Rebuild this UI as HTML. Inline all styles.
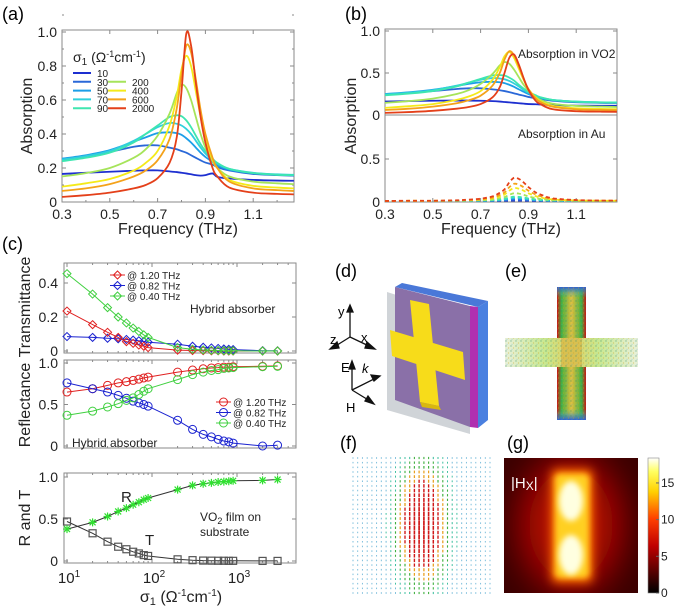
<!DOCTYPE html>
<html><head><meta charset="utf-8">
<style>
html,body{margin:0;padding:0;background:#fff;}
svg{display:block;font-family:"Liberation Sans",Arial,sans-serif;}
</style></head>
<body>
<svg id="fig" width="675" height="608" viewBox="0 0 675 608" xmlns="http://www.w3.org/2000/svg">
<defs>
  <linearGradient id="cbar" x1="0" y1="1" x2="0" y2="0">
    <stop offset="0" stop-color="#000"/><stop offset="0.35" stop-color="#c00000"/><stop offset="0.55" stop-color="#ff4000"/><stop offset="0.75" stop-color="#ffd000"/><stop offset="0.9" stop-color="#ffff60"/><stop offset="1" stop-color="#fff"/>
  </linearGradient>
  <filter id="blur6" x="-50%" y="-50%" width="200%" height="200%"><feGaussianBlur stdDeviation="5"/></filter>
  <filter id="blur12" x="-50%" y="-50%" width="200%" height="200%"><feGaussianBlur stdDeviation="14"/></filter>
  <filter id="blur3" x="-50%" y="-50%" width="200%" height="200%"><feGaussianBlur stdDeviation="3"/></filter>
  <clipPath id="gclip"><rect x="504" y="458" width="134" height="135"/></clipPath>
  <linearGradient id="vbar" x1="0" y1="0" x2="1" y2="0">
    <stop offset="0" stop-color="#d01010"/><stop offset="0.15" stop-color="#40b040"/><stop offset="0.5" stop-color="#e0c040"/><stop offset="0.85" stop-color="#40b040"/><stop offset="1" stop-color="#d01010"/>
  </linearGradient>
  <linearGradient id="hbar" x1="0" y1="0" x2="1" y2="0">
    <stop offset="0" stop-color="#e8f0d8"/><stop offset="0.3" stop-color="#c8e890"/><stop offset="0.5" stop-color="#e0d060"/><stop offset="0.7" stop-color="#c8e890"/><stop offset="1" stop-color="#e8f0d8"/>
  </linearGradient>
  <linearGradient id="vcap" x1="0" y1="0" x2="0" y2="1">
    <stop offset="0" stop-color="#3060d0"/><stop offset="0.08" stop-color="#50c0a0" stop-opacity="0"/><stop offset="0.92" stop-color="#50c0a0" stop-opacity="0"/><stop offset="1" stop-color="#3060d0"/>
  </linearGradient>
  <pattern id="dots" width="5" height="5" patternUnits="userSpaceOnUse">
    <circle cx="1" cy="1" r="0.7" fill="#2a8a70"/><circle cx="3.5" cy="3" r="0.6" fill="#d0a020"/><circle cx="2" cy="4.2" r="0.5" fill="#50a0d0"/>
  </pattern>
</defs>

<text x="2" y="20" font-size="18">(a)</text>
<text x="345" y="20" font-size="18">(b)</text>
<text x="2" y="250" font-size="18">(c)</text>
<text x="335" y="277" font-size="18">(d)</text>
<text x="505" y="277" font-size="18">(e)</text>
<text x="340" y="449" font-size="18">(f)</text>
<text x="507" y="449" font-size="18">(g)</text>

<g id="pa"></g>
<g id="pb"></g>
<g id="pc"></g>

<g stroke="#111" stroke-width="1.3" fill="none">
  <line x1="350" y1="337" x2="350" y2="309"/><path d="M347,312 L350,305 L353,312Z" fill="#111"/>
  <line x1="350" y1="337" x2="371" y2="347"/><path d="M367,342 L375,349 L365,348Z" fill="#111"/>
  <line x1="350" y1="337" x2="334" y2="347"/><path d="M337,342 L330,349 L339,348Z" fill="#111"/>
  <line x1="352" y1="390" x2="352" y2="366"/><path d="M349,369 L352,361 L355,369Z" fill="#111"/>
  <line x1="352" y1="390" x2="376" y2="378"/><path d="M371,375 L380,376 L374,381Z" fill="#111"/>
  <line x1="352" y1="390" x2="370" y2="401"/><path d="M365,401 L374,404 L368,396Z" fill="#111"/>
</g>
<text x="338" y="316" font-size="13">y</text>
<text x="361" y="342" font-size="13">x</text>
<text x="330" y="344" font-size="13">z</text>
<text x="341" y="372" font-size="13">E</text>
<text x="362" y="373" font-size="13" font-style="italic">k</text>
<text x="346" y="412" font-size="13">H</text>
<g>
  <polygon points="387,292 470,318 470,434 387,410" fill="#d0d4d8"/>
  <polygon points="395,287 402,283 488,301 478,307" fill="#4a78d8"/>
  <polygon points="478,307 488,301 488,420 478,428" fill="#4a80e0"/>
  <polygon points="470,306 478,307 478,428 470,427" fill="#b030b0"/>
  <polygon points="395,287 470,306 470,427 395,400" fill="#8a70a8"/>
  <polygon points="410,300 429,304 439,406 420,402" fill="#f7dc1a"/>
  <polygon points="390,330 463,352 465,380 392,356" fill="#f7dc1a"/>
  <polygon points="420,402 439,406 441,410 422,407" fill="#d8b810"/>
</g>

<g>
  <rect x="557" y="287" width="29" height="133" fill="url(#vbar)"/>
  <rect x="505" y="338" width="133" height="29" fill="url(#hbar)"/>
  <rect x="561" y="338" width="21" height="29" fill="#d8c050"/>
  <rect x="557" y="287" width="29" height="133" fill="url(#vcap)"/>
  <rect x="505" y="287" width="133" height="133" fill="url(#dots)" opacity="0.5"/>
  <rect x="505" y="287" width="52" height="51" fill="#fff"/>
  <rect x="586" y="287" width="52" height="51" fill="#fff"/>
  <rect x="505" y="367" width="52" height="53" fill="#fff"/>
  <rect x="586" y="367" width="52" height="53" fill="#fff"/>
</g>

<g id="pf"></g>

<g clip-path="url(#gclip)">
  <rect x="504" y="458" width="134" height="135" fill="#3a0000"/>
  <ellipse cx="571" cy="525" rx="60" ry="80" fill="#700000" filter="url(#blur12)"/>
  <ellipse cx="571" cy="525" rx="42" ry="55" fill="#b00800" filter="url(#blur12)"/>
  <rect x="551" y="469" width="42" height="114" rx="6" fill="#ff7000" filter="url(#blur6)"/>
  <rect x="555" y="474" width="34" height="104" rx="5" fill="#ffd020" filter="url(#blur3)"/>
  <ellipse cx="571" cy="501" rx="12" ry="20" fill="#ffffe0" filter="url(#blur3)"/>
  <ellipse cx="571" cy="555" rx="12" ry="20" fill="#ffffe0" filter="url(#blur3)"/>
</g>
<text x="511" y="488" font-size="15" fill="#fff">|H<tspan font-size="12" dy="2">X</tspan><tspan dy="-2">|</tspan></text>
<rect x="648" y="458" width="11" height="135" fill="url(#cbar)" stroke="#888" stroke-width="0.6"/>
<g id="cbticks"></g>

<script>
// ---------- data ----------
const freqs = [0.3,0.4,0.5,0.6,0.65,0.7,0.75,0.78,0.8,0.82,0.84,0.86,0.88,0.9,0.93,0.95,1.0,1.1,1.2,1.27];
const sigmaLabels = ['10','30','50','70','90','200','400','600','2000'];
const seriesColors = ['#1d2fd0','#2a68d8','#1c9ee8','#30d0dc','#3ee6b0','#a6e45a','#f4ea1a','#f4a21a','#e4401a'];
const absA10 = [0.165,0.172,0.178,0.184,0.186,0.186,0.18,0.176,0.172,0.168,0.163,0.158,0.155,0.158,0.168,0.148,0.138,0.13,0.126,0.125];
const absA30 = [0.25,0.27,0.295,0.325,0.333,0.333,0.32,0.31,0.3,0.29,0.275,0.26,0.245,0.232,0.22,0.205,0.185,0.165,0.158,0.155];
const absA50 = [0.255,0.275,0.305,0.355,0.38,0.405,0.41,0.405,0.395,0.375,0.35,0.32,0.29,0.265,0.235,0.215,0.19,0.17,0.16,0.158];
const absA70 = [0.25,0.27,0.30,0.36,0.40,0.44,0.465,0.46,0.45,0.43,0.4,0.36,0.32,0.285,0.245,0.225,0.195,0.172,0.163,0.16];
const absA90 = [0.24,0.26,0.29,0.35,0.40,0.45,0.5,0.51,0.505,0.48,0.44,0.39,0.34,0.3,0.255,0.23,0.195,0.17,0.16,0.158];
const absA200 = [0.15,0.17,0.2,0.26,0.31,0.39,0.52,0.64,0.69,0.67,0.6,0.5,0.4,0.32,0.24,0.2,0.15,0.12,0.11,0.105];
const absA400 = [0.09,0.11,0.135,0.185,0.23,0.3,0.45,0.62,0.78,0.86,0.8,0.65,0.5,0.37,0.25,0.2,0.13,0.095,0.085,0.08];
const absA600 = [0.065,0.08,0.105,0.15,0.185,0.245,0.37,0.55,0.75,0.92,0.88,0.72,0.54,0.4,0.26,0.2,0.12,0.08,0.07,0.065];
const absA2000 = [0.03,0.04,0.055,0.08,0.1,0.14,0.23,0.38,0.65,0.99,0.92,0.7,0.5,0.35,0.2,0.15,0.085,0.055,0.048,0.045];

const vo2_10 = [0.16,0.165,0.17,0.172,0.172,0.17,0.165,0.16,0.155,0.15,0.145,0.14,0.135,0.13,0.128,0.125,0.118,0.112,0.11,0.11];
const vo2_30 = [0.245,0.265,0.285,0.31,0.318,0.318,0.305,0.295,0.285,0.272,0.258,0.243,0.23,0.215,0.2,0.19,0.17,0.152,0.145,0.143];
const vo2_50 = [0.25,0.27,0.3,0.345,0.37,0.39,0.395,0.39,0.38,0.36,0.335,0.305,0.277,0.25,0.22,0.2,0.178,0.158,0.15,0.148];
const vo2_70 = [0.245,0.265,0.295,0.35,0.385,0.42,0.44,0.435,0.425,0.405,0.375,0.34,0.3,0.265,0.228,0.21,0.18,0.16,0.152,0.15];
const vo2_90 = [0.235,0.255,0.285,0.34,0.385,0.43,0.47,0.475,0.47,0.445,0.41,0.36,0.315,0.275,0.235,0.212,0.18,0.158,0.15,0.148];
const vo2_200 = [0.145,0.165,0.195,0.25,0.295,0.37,0.49,0.59,0.63,0.61,0.54,0.45,0.36,0.29,0.215,0.18,0.135,0.108,0.1,0.095];
const vo2_400 = [0.085,0.105,0.13,0.18,0.22,0.285,0.42,0.57,0.7,0.75,0.68,0.55,0.42,0.31,0.21,0.165,0.11,0.08,0.072,0.07];
const vo2_600 = [0.06,0.075,0.1,0.14,0.175,0.23,0.35,0.5,0.66,0.76,0.71,0.58,0.43,0.31,0.2,0.155,0.1,0.068,0.06,0.058];
const vo2_2000 = [0.025,0.035,0.05,0.075,0.095,0.13,0.21,0.33,0.5,0.68,0.72,0.6,0.44,0.3,0.17,0.13,0.07,0.045,0.04,0.038];

const au_10 = [0,0,0,0.001,0.001,0.001,0.002,0.002,0.003,0.004,0.005,0.005,0.004,0.003,0.002,0.002,0.001,0,0,0];
const au_30 = [0,0,0,0,0.001,0.002,0.003,0.005,0.008,0.012,0.015,0.014,0.012,0.009,0.006,0.004,0.002,0,0,0];
const au_50 = [0,0,0,0.001,0.002,0.003,0.006,0.01,0.015,0.024,0.03,0.028,0.024,0.018,0.011,0.008,0.004,0.001,0,0];
const au_70 = [0,0,0,0.001,0.002,0.004,0.008,0.014,0.02,0.032,0.04,0.038,0.032,0.024,0.015,0.011,0.005,0.002,0.001,0.001];
const au_90 = [0,0,0,0.002,0.003,0.005,0.01,0.018,0.025,0.04,0.05,0.048,0.04,0.03,0.019,0.014,0.006,0.002,0.001,0.001];
const au_200 = [0,0.001,0.001,0.003,0.005,0.009,0.018,0.032,0.045,0.072,0.09,0.086,0.072,0.054,0.034,0.025,0.011,0.004,0.002,0.002];
const au_400 = [0,0.002,0.002,0.005,0.009,0.015,0.03,0.053,0.075,0.12,0.15,0.143,0.12,0.09,0.057,0.042,0.018,0.006,0.003,0.003];
const au_600 = [0,0.002,0.002,0.006,0.012,0.02,0.04,0.07,0.1,0.16,0.2,0.19,0.16,0.12,0.076,0.056,0.024,0.008,0.004,0.004];
const au_2000 = [0,0.003,0.003,0.008,0.016,0.027,0.054,0.095,0.135,0.216,0.27,0.257,0.216,0.162,0.1,0.076,0.032,0.011,0.005,0.005];

const freqTicks = [0.3,0.5,0.7,0.9,1.1];
const absTicksA = [0,0.2,0.4,0.6,0.8,1.0];
const absTickLabelsA = ['0','0.2','0.4','0.6','0.8','1.0'];

const sigmas = [10,20,30,40,50,60,70,80,90,200,300,400,500,600,700,800,900,2000,3000];
const trans120 = [0.235,0.155,0.11,0.08,0.055,0.045,0.035,0.028,0.02,0.005,0.003,0.002,0.001,0.001,0,0,0,0,0];
const trans082 = [0.085,0.08,0.075,0.072,0.068,0.064,0.06,0.056,0.052,0.04,0.028,0.022,0.018,0.015,0.012,0.01,0.008,0.002,0.001];
const trans040 = [0.455,0.335,0.255,0.2,0.165,0.135,0.115,0.095,0.08,0.02,0.01,0.006,0.004,0.003,0.002,0.002,0.001,0,0];
const refl120 = [0.65,0.69,0.73,0.76,0.775,0.79,0.805,0.82,0.83,0.89,0.915,0.93,0.94,0.945,0.95,0.95,0.955,0.96,0.965];
const refl082 = [0.76,0.69,0.65,0.61,0.575,0.54,0.52,0.5,0.48,0.31,0.2,0.14,0.11,0.08,0.06,0.05,0.035,0.0,0.01];
const refl040 = [0.37,0.42,0.47,0.51,0.55,0.58,0.62,0.66,0.69,0.8,0.86,0.89,0.91,0.92,0.935,0.94,0.945,0.955,0.96];
const filmR = [0.38,0.46,0.53,0.59,0.63,0.67,0.7,0.73,0.75,0.85,0.9,0.92,0.93,0.94,0.945,0.95,0.955,0.96,0.97];
const filmT = [0.47,0.33,0.23,0.17,0.14,0.11,0.09,0.07,0.06,0.02,0.01,0.005,0.004,0.003,0.003,0.002,0.002,0.001,0.001];
const cbTicks = [0,5,10,15];

// ---------- helpers ----------
const NS = 'http://www.w3.org/2000/svg';
function mk(parent, tag, attrs, text) {
  const el = document.createElementNS(NS, tag);
  for (const k in attrs) el.setAttribute(k, attrs[k]);
  if (text !== undefined) el.textContent = text;
  parent.appendChild(el);
  return el;
}
// parts: [text, fontSize or null, dy]
function rich(el, parts) {
  parts.forEach(p => {
    const a = {};
    if (p[1]) a['font-size'] = p[1];
    if (p[2]) a['dy'] = p[2];
    mk(el, 'tspan', a, p[0]);
  });
}
function smoothPath(pts) {
  let d = 'M' + pts[0][0].toFixed(2) + ',' + pts[0][1].toFixed(2);
  for (let i = 0; i < pts.length - 1; i++) {
    const p0 = pts[Math.max(0, i - 1)], p1 = pts[i], p2 = pts[i + 1], p3 = pts[Math.min(pts.length - 1, i + 2)];
    const c1x = p1[0] + (p2[0] - p0[0]) / 6, c1y = p1[1] + (p2[1] - p0[1]) / 6;
    const c2x = p2[0] - (p3[0] - p1[0]) / 6, c2y = p2[1] - (p3[1] - p1[1]) / 6;
    d += ' C' + c1x.toFixed(2) + ',' + c1y.toFixed(2) + ' ' + c2x.toFixed(2) + ',' + c2y.toFixed(2) + ' ' + p2[0].toFixed(2) + ',' + p2[1].toFixed(2);
  }
  return d;
}
function frame(g, x0, y0, x1, y1) {
  const r = mk(g, 'rect', {x: x0, y: y0, width: x1 - x0, height: y1 - y0, fill: 'none', stroke: '#8a8a8a', 'stroke-width': 1});
  
  
}
function tick(g, x1, y1, x2, y2) {
  const t = mk(g, 'line', {x1: x1, y1: y1, x2: x2, y2: y2, stroke: '#8a8a8a', 'stroke-width': 1});
  
  
}
function label(g, x, y, txt, size, anchor, name) {
  const t = mk(g, 'text', {x: x, y: y, 'font-size': size, 'text-anchor': anchor || 'start', fill: '#222'}, txt);
  
  
  return t;
}
function vlabel(g, x, y, txt, size, name) {
  const t = mk(g, 'text', {x: 0, y: 0, 'font-size': size, 'text-anchor': 'middle', fill: '#222', transform: 'translate(' + x + ',' + y + ') rotate(-90)'}, txt);
  
  
  return t;
}

// ---------- panel (a) ----------
const pa = document.getElementById('pa');
const xa = f => 62 + (f - 0.3) / 0.1 * 23.9;
const ya = v => 202 - v * 170;
const seriesA = [absA10, absA30, absA50, absA70, absA90, absA200, absA400, absA600, absA2000];
frame(pa, 62, 30, 294, 202);
freqTicks.forEach(f => {
  tick(pa, xa(f), 202, xa(f), 198); tick(pa, xa(f), 30, xa(f), 34);
  tick(pa, xa(f + 0.1), 202, xa(f + 0.1), 200);
  label(pa, xa(f), 219, f.toFixed(1), 14, 'middle', 'x-tick-label');
});
absTicksA.forEach((v, i) => {
  tick(pa, 62, ya(v), 66, ya(v)); tick(pa, 294, ya(v), 290, ya(v));
  tick(pa, 62, ya(v + 0.1), 64, ya(v + 0.1)); tick(pa, 294, ya(v + 0.1), 292, ya(v + 0.1));
  label(pa, 57, ya(v) + 5, absTickLabelsA[i], 14, 'end', 'y-tick-label');
});
seriesA.forEach((s, k) => {
  const p = mk(pa, 'path', {d: smoothPath(s.map((v, i) => [xa(freqs[i]), ya(v)])), fill: 'none', stroke: seriesColors[k], 'stroke-width': 1.8});
  
  
});
label(pa, 178, 234, 'Frequency (THz)', 16, 'middle', 'x-axis-title');
vlabel(pa, 32, 116, 'Absorption', 16, 'y-axis-title');
const lt = label(pa, 73, 62, '', 14, 'start', 'legend-title');
rich(lt, [['σ'], ['1', 10, 3], [' (Ω', null, -3], ['-1', 9, -5], ['cm', null, 5], ['-1', 9, -5], [')', null, 5]]);
sigmaLabels.forEach((lab, k) => {
  const col = k < 5 ? 0 : 1;
  const row = k < 5 ? k : k - 4;
  const lx = col === 0 ? 73 : 108;
  const ly = 73 + row * 8.8;
  const l = mk(pa, 'line', {x1: lx, y1: ly, x2: lx + 18, y2: ly, stroke: seriesColors[k], 'stroke-width': 2});
  
  
  label(pa, lx + 24, ly + 4, lab, 10, 'start', 'legend-entry-' + lab);
});

// ---------- panel (b) ----------
const pb = document.getElementById('pb');
const xb = f => 385 + (f - 0.3) * 239;
const ybt = v => 115 - v * 84;
const ybb = v => 202 - v * 86;
const seriesVO2 = [vo2_10, vo2_30, vo2_50, vo2_70, vo2_90, vo2_200, vo2_400, vo2_600, vo2_2000];
const seriesAu = [au_10, au_30, au_50, au_70, au_90, au_200, au_400, au_600, au_2000];
frame(pb, 385, 29, 617, 202);
const dv = mk(pb, 'line', {x1: 385, y1: 115, x2: 617, y2: 115, stroke: '#8a8a8a', 'stroke-width': 1});


freqTicks.forEach(f => {
  tick(pb, xb(f), 202, xb(f), 198); tick(pb, xb(f), 29, xb(f), 33);
  tick(pb, xb(f + 0.1), 202, xb(f + 0.1), 200);
  label(pb, xb(f), 219, f.toFixed(1), 14, 'middle', 'x-tick-label');
});
[[0, '0'], [0.5, '0.5'], [1.0, '1.0']].forEach(t => {
  tick(pb, 385, ybt(t[0]), 389, ybt(t[0])); tick(pb, 617, ybt(t[0]), 613, ybt(t[0]));
  label(pb, 380, ybt(t[0]) + 5, t[1], 14, 'end', 'y-tick-label-vo2');
});
[[0, '0'], [0.5, '0.5']].forEach(t => {
  tick(pb, 385, ybb(t[0]), 389, ybb(t[0])); tick(pb, 617, ybb(t[0]), 613, ybb(t[0]));
  label(pb, 380, ybb(t[0]) + 5, t[1], 14, 'end', 'y-tick-label-au');
});
seriesVO2.forEach((s, k) => {
  const p = mk(pb, 'path', {d: smoothPath(s.map((v, i) => [xb(freqs[i]), ybt(v)])), fill: 'none', stroke: seriesColors[k], 'stroke-width': 1.8});
  
  
});
seriesAu.forEach((s, k) => {
  const p = mk(pb, 'path', {d: smoothPath(s.map((v, i) => [xb(freqs[i]), ybb(v) - 1])), fill: 'none', stroke: seriesColors[k], 'stroke-width': 1.8, 'stroke-dasharray': '4,3'});
  
  
});
label(pb, 518, 58, 'Absorption in VO2', 12, 'start', 'vo2-annotation');
label(pb, 518, 138, 'Absorption in Au', 12, 'start', 'au-annotation');
label(pb, 501, 234, 'Frequency (THz)', 16, 'middle', 'x-axis-title-b');
vlabel(pb, 356, 116, 'Absorption', 16, 'y-axis-title-b');

// ---------- panel (c) ----------
const pc = document.getElementById('pc');
const xc = s => 67 + Math.log10(s / 10) * 85;
const yt = v => 351 - v * 170;
const ym = v => 446 - v * 83;
const yr = v => 561 - v * 84;
function logTicks(y0, y1) {
  [10, 100, 1000].forEach(d => { tick(pc, xc(d), y1, xc(d), y1 - 4); tick(pc, xc(d), y0, xc(d), y0 + 4); });
  [20,30,40,50,60,70,80,90,200,300,400,500,600,700,800,900,2000,3000,4000].forEach(d => { tick(pc, xc(d), y1, xc(d), y1 - 2); tick(pc, xc(d), y0, xc(d), y0 + 2); });
}
frame(pc, 64, 263, 296, 353); logTicks(263, 353);
frame(pc, 64, 360, 296, 448); logTicks(360, 448);
frame(pc, 64, 473, 296, 563); logTicks(473, 563);
[[0, '0'], [0.2, '0.2'], [0.4, '0.4']].forEach(t => { tick(pc, 64, yt(t[0]), 68, yt(t[0])); tick(pc, 296, yt(t[0]), 292, yt(t[0])); label(pc, 58, yt(t[0]) + 5, t[1], 14, 'end', 'y-tick-label-trans'); });
[[0, '0'], [0.5, '0.5'], [1, '1.0']].forEach(t => { tick(pc, 64, ym(t[0]), 68, ym(t[0])); tick(pc, 296, ym(t[0]), 292, ym(t[0])); label(pc, 58, ym(t[0]) + 5, t[1], 14, 'end', 'y-tick-label-refl'); });
[[0, '0'], [0.5, '0.5'], [1, '1.0']].forEach(t => { tick(pc, 64, yr(t[0]), 68, yr(t[0])); tick(pc, 296, yr(t[0]), 292, yr(t[0])); label(pc, 58, yr(t[0]) + 5, t[1], 14, 'end', 'y-tick-label-rt'); });
[[10, '1'], [100, '2'], [1000, '3']].forEach(t => {
  const tl = label(pc, xc(t[0]) + 2, 583, '', 15, 'middle', 'x-tick-label-log');
  rich(tl, [['10'], [t[1], 10, -6]]);
});
function marker(g, type, x, y, col) {
  let m;
  if (type === 'diamond') m = mk(g, 'polygon', {points: x + ',' + (y - 4) + ' ' + (x + 4) + ',' + y + ' ' + x + ',' + (y + 4) + ' ' + (x - 4) + ',' + y, fill: 'none', stroke: col, 'stroke-width': 1});
  else if (type === 'circle') m = mk(g, 'circle', {cx: x, cy: y, r: 4, fill: 'none', stroke: col, 'stroke-width': 1});
  else if (type === 'square') m = mk(g, 'rect', {x: x - 3.5, y: y - 3.5, width: 7, height: 7, fill: 'none', stroke: col, 'stroke-width': 1.2});
  else {
    m = mk(g, 'path', {d: 'M' + (x - 4) + ',' + y + 'H' + (x + 4) + 'M' + x + ',' + (y - 4) + 'V' + (y + 4) + 'M' + (x - 3) + ',' + (y - 3) + 'L' + (x + 3) + ',' + (y + 3) + 'M' + (x - 3) + ',' + (y + 3) + 'L' + (x + 3) + ',' + (y - 3), stroke: col, 'stroke-width': 1.2});
  }
  
  
}
function series(vals, ys, col, lineCol, type, name) {
  const pts = vals.map((v, i) => [xc(sigmas[i]), ys(v)]);
  const p = mk(pc, 'polyline', {points: pts.map(q => q[0].toFixed(1) + ',' + q[1].toFixed(1)).join(' '), fill: 'none', stroke: lineCol, 'stroke-width': 1});
  
  
  pts.forEach(q => marker(pc, type, q[0], q[1], col));
}
series(trans082, yt, '#1a22d0', '#1a22d0', 'diamond', 'transmittance-0.82thz');
series(trans120, yt, '#e02020', '#e02020', 'diamond', 'transmittance-1.20thz');
series(trans040, yt, '#40d040', '#40d040', 'diamond', 'transmittance-0.40thz');
series(refl120, ym, '#e02020', '#e02020', 'circle', 'reflectance-1.20thz');
series(refl082, ym, '#1a22d0', '#1a22d0', 'circle', 'reflectance-0.82thz');
series(refl040, ym, '#40d040', '#40d040', 'circle', 'reflectance-0.40thz');
series(filmT, yr, '#555', '#333', 'square', 'film-transmittance');
series(filmR, yr, '#30e030', '#333', 'star', 'film-reflectance');
const legT = [['@ 1.20 THz', '#e02020'], ['@ 0.82 THz', '#1a22d0'], ['@ 0.40 THz', '#40d040']];
legT.forEach((e, i) => {
  const y = 275 + i * 10.5;
  const l = mk(pc, 'line', {x1: 110, y1: y, x2: 125, y2: y, stroke: e[1]});  
  marker(pc, 'diamond', 117.5, y, e[1]);
  label(pc, 127, y + 4, e[0], 10, 'start', 'legend-entry-trans');
});
legT.forEach((e, i) => {
  const y = 402 + i * 10.5;
  const l = mk(pc, 'line', {x1: 216, y1: y, x2: 231, y2: y, stroke: e[1]});  
  marker(pc, 'circle', 223.5, y, e[1]);
  label(pc, 233, y + 4, e[0], 10, 'start', 'legend-entry-refl');
});
label(pc, 190, 313, 'Hybrid absorber', 12, 'start', 'hybrid-annotation-trans');
label(pc, 72, 447, 'Hybrid absorber', 12, 'start', 'hybrid-annotation-refl');
label(pc, 121, 502, 'R', 15, 'start', 'r-annotation');
label(pc, 145, 545, 'T', 15, 'start', 't-annotation');
const vf = label(pc, 200, 521, '', 12, 'start', 'vo2-film-annotation');
rich(vf, [['VO'], ['2', 9, 3], [' film on', null, -3]]);
label(pc, 200, 536, 'substrate', 12, 'start', 'substrate-annotation');
vlabel(pc, 30, 307, 'Transmittance', 16, 'y-axis-title-trans');
vlabel(pc, 30, 405, 'Reflectance', 16, 'y-axis-title-refl');
vlabel(pc, 30, 518, 'R and T', 16, 'y-axis-title-rt');
const xt = label(pc, 181, 602, '', 16, 'middle', 'x-axis-title-sigma');
rich(xt, [['σ'], ['1', 11, 3], [' (Ω', null, -3], ['-1', 10, -6], ['cm', null, 6], ['-1', 10, -6], [')', null, 6]]);

// ---------- panel (f) vector field ----------
const pf = document.getElementById('pf');
const nCols = 30, nRows = 30;
for (let i = 0; i < nCols; i++) {
  for (let j = 0; j < nRows; j++) {
    const x = 353 + i * (137 / (nCols - 1));
    const y = 458 + j * (135 / (nRows - 1));
    const t = Math.exp(-Math.pow((x - 422) / 24, 2) - Math.pow((y - 525) / 58, 2));
    const col = t > 0.55 ? '#d01818' : t > 0.38 ? '#e8a020' : t > 0.22 ? '#40b040' : t > 0.1 ? '#40c0a0' : '#70b8d8';
    const len = 1.5 + t * 3;
    const a = mk(pf, 'line', {x1: x.toFixed(1), y1: (y - len / 2).toFixed(1), x2: x.toFixed(1), y2: (y + len / 2).toFixed(1), stroke: col, 'stroke-width': 0.9 + t * 0.8});
    
    
  }
}

// ---------- colorbar ticks ----------
const cbg = document.getElementById('cbticks');
const ycb = v => 593 - v * (135 / 18.4);
cbTicks.forEach(v => {
  const t = mk(cbg, 'line', {x1: 656, y1: ycb(v), x2: 659, y2: ycb(v), stroke: '#666'});
  
  
  const l = mk(cbg, 'text', {x: 661, y: ycb(v) + 4, 'font-size': 12, fill: '#222'}, String(v));
  
  
});
</script>
</svg>
</body></html>
